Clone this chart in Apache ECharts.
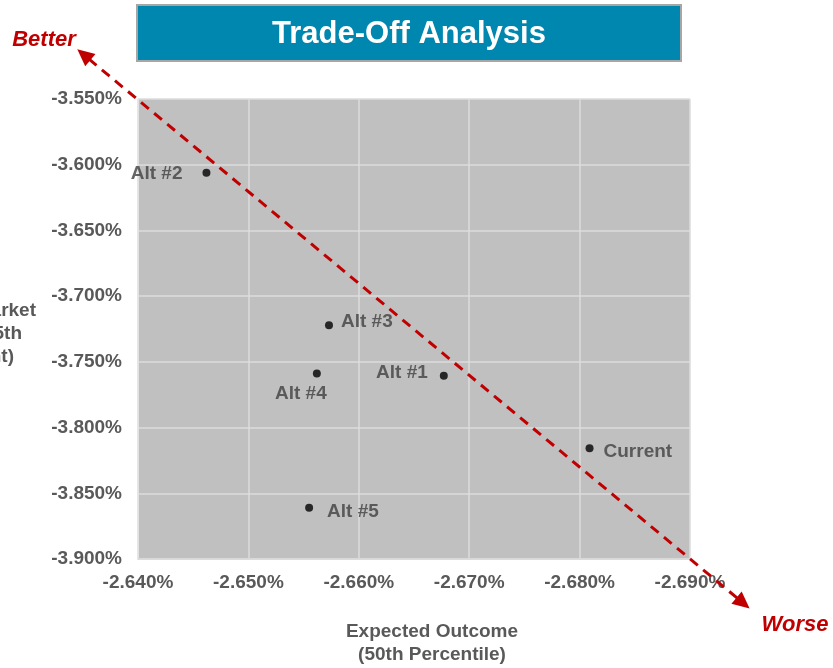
<!DOCTYPE html>
<html>
<head>
<meta charset="utf-8">
<title>Trade-Off Analysis</title>
<script src="https://cdn.jsdelivr.net/npm/echarts@6/dist/echarts.min.js"></script>
<style>
  html, body { margin: 0; padding: 0; background: #ffffff; }
  #chart { width: 833px; height: 668px; }
</style>
</head>
<body>
<div id="chart"></div>
<script>
// Portfolio alternatives: expected outcome (50th pct) vs down-market outcome (5th pct), in %
const names = ['Alt #2', 'Alt #3', 'Alt #4', 'Alt #1', 'Current', 'Alt #5'];
const expectedOutcome = [-2.6462, -2.6573, -2.6562, -2.6677, -2.6809, -2.6555];
const downMarket = [-3.6061, -3.7222, -3.7588, -3.7606, -3.8158, -3.8610];

// Axis ranges (x runs from -2.640% on the left to -2.690% on the right)
const xTicks = { min: -2.69, max: -2.64, step: 0.01 };
const yTicks = { min: -3.90, max: -3.55, step: 0.05 };

// Direction arrow ends, in data units
const betterEnd = [-2.6345, -3.5122];
const worseEnd = [-2.6954, -3.9376];

const FONT = '"Liberation Sans", Arial, Helvetica, sans-serif';
const RED = '#C00000';
const AXIS_TEXT = '#595959';

// Label placement per point name
const labelPlacement = {
  'Alt #2': { position: 'left', distance: 20, offset: [0, 1] },
  'Alt #3': { position: 'right', distance: 8, offset: [0, -4] },
  'Alt #4': { position: 'bottom', distance: 7, offset: [-16, 0] },
  'Alt #1': { position: 'left', distance: 12, offset: [0, -3] },
  'Current': { position: 'right', distance: 10, offset: [0, 3] },
  'Alt #5': { position: 'right', distance: 14, offset: [0, 4] }
};

const points = names.map((n, i) => ({
  name: n,
  value: [expectedOutcome[i], downMarket[i]],
  label: labelPlacement[n]
}));

const chart = echarts.init(document.getElementById('chart'), null, { renderer: 'canvas' });

const option = {
  animation: false,
  backgroundColor: '#ffffff',
  grid: {
    left: 138, top: 99, width: 552, height: 460,
    show: true, backgroundColor: '#C0C0C0', borderWidth: 0
  },
  xAxis: {
    type: 'value',
    inverse: true,
    min: xTicks.min, max: xTicks.max, interval: xTicks.step,
    axisLine: { show: true, lineStyle: { color: '#D9D9D9', width: 1.5 } },
    axisTick: { show: false },
    splitLine: { show: true, lineStyle: { color: '#DCDCDC', width: 1.5 } },
    axisLabel: {
      margin: 14,
      color: AXIS_TEXT, fontFamily: FONT, fontWeight: 'bold', fontSize: 19,
      formatter: v => v.toFixed(3) + '%'
    }
  },
  yAxis: {
    type: 'value',
    min: yTicks.min, max: yTicks.max, interval: yTicks.step,
    axisLine: { show: true, lineStyle: { color: '#E6E6E6', width: 1.5 } },
    axisTick: { show: false },
    splitLine: { show: true, lineStyle: { color: '#DCDCDC', width: 1.5 } },
    axisLabel: {
      margin: 16,
      color: AXIS_TEXT, fontFamily: FONT, fontWeight: 'bold', fontSize: 19,
      formatter: v => v.toFixed(3) + '%'
    }
  },
  series: [{
    type: 'scatter',
    symbol: 'circle',
    symbolSize: 8,
    itemStyle: { color: '#000000' },
    label: {
      show: true,
      formatter: p => p.name,
      color: '#404040', fontFamily: FONT, fontWeight: 'bold', fontSize: 19
    },
    data: points,
    z: 3
  }]
};

chart.setOption(option);

// Overlay: title box, direction arrow, axis titles
const p0 = chart.convertToPixel({ gridIndex: 0 }, betterEnd);
const p1 = chart.convertToPixel({ gridIndex: 0 }, worseEnd);
const ang = Math.atan2(p1[1] - p0[1], p1[0] - p0[0]);
const headLen = 17, headHalf = 8;

function head(tip, dir) {
  const ux = Math.cos(dir), uy = Math.sin(dir);
  const bx = tip[0] - ux * headLen, by = tip[1] - uy * headLen;
  return [tip, [bx - uy * headHalf, by + ux * headHalf], [bx + uy * headHalf, by - ux * headHalf]];
}
const lineStart = [p0[0] + Math.cos(ang) * (headLen - 2), p0[1] + Math.sin(ang) * (headLen - 2)];
const lineEnd = [p1[0] - Math.cos(ang) * (headLen - 2), p1[1] - Math.sin(ang) * (headLen - 2)];

chart.setOption({
  graphic: [
    {
      type: 'rect', z: 10,
      shape: { x: 137, y: 5, width: 544, height: 56 },
      style: { fill: '#0087AF', stroke: '#A6A6A6', lineWidth: 2 }
    },
    {
      type: 'text', z: 11,
      style: {
        text: 'Trade-Off Analysis', x: 409, y: 34,
        textAlign: 'center', textVerticalAlign: 'middle',
        font: 'bold 31px ' + FONT, fill: '#ffffff'
      }
    },
    {
      type: 'line', z: 20,
      shape: { x1: lineStart[0], y1: lineStart[1], x2: lineEnd[0], y2: lineEnd[1] },
      style: { stroke: RED, lineWidth: 3, lineDash: [10, 7] }
    },
    {
      type: 'polygon', z: 20,
      shape: { points: head(p0, ang + Math.PI) },
      style: { fill: RED }
    },
    {
      type: 'polygon', z: 20,
      shape: { points: head(p1, ang) },
      style: { fill: RED }
    },
    {
      type: 'text', z: 20,
      style: {
        text: 'Better', x: 44, y: 40, textAlign: 'center', textVerticalAlign: 'middle',
        font: 'italic bold 22px ' + FONT, fill: RED
      }
    },
    {
      type: 'text', z: 20,
      style: {
        text: 'Worse', x: 795, y: 625, textAlign: 'center', textVerticalAlign: 'middle',
        font: 'italic bold 22px ' + FONT, fill: RED
      }
    },
    {
      type: 'text', z: 20,
      style: {
        text: 'Expected Outcome', x: 432, y: 632, textAlign: 'center', textVerticalAlign: 'middle',
        font: 'bold 19px ' + FONT, fill: AXIS_TEXT
      }
    },
    {
      type: 'text', z: 20,
      style: {
        text: '(50th Percentile)', x: 432, y: 655, textAlign: 'center', textVerticalAlign: 'middle',
        font: 'bold 19px ' + FONT, fill: AXIS_TEXT
      }
    },
    {
      type: 'text', z: 20,
      style: {
        text: 'Down Market', x: 36, y: 311, textAlign: 'right', textVerticalAlign: 'middle',
        font: 'bold 19px ' + FONT, fill: AXIS_TEXT
      }
    },
    {
      type: 'text', z: 20,
      style: {
        text: '(5th', x: 22, y: 334, textAlign: 'right', textVerticalAlign: 'middle',
        font: 'bold 19px ' + FONT, fill: AXIS_TEXT
      }
    },
    {
      type: 'text', z: 20,
      style: {
        text: 'Percent)', x: 14, y: 357, textAlign: 'right', textVerticalAlign: 'middle',
        font: 'bold 19px ' + FONT, fill: AXIS_TEXT
      }
    }
  ]
});
</script>
</body>
</html>
